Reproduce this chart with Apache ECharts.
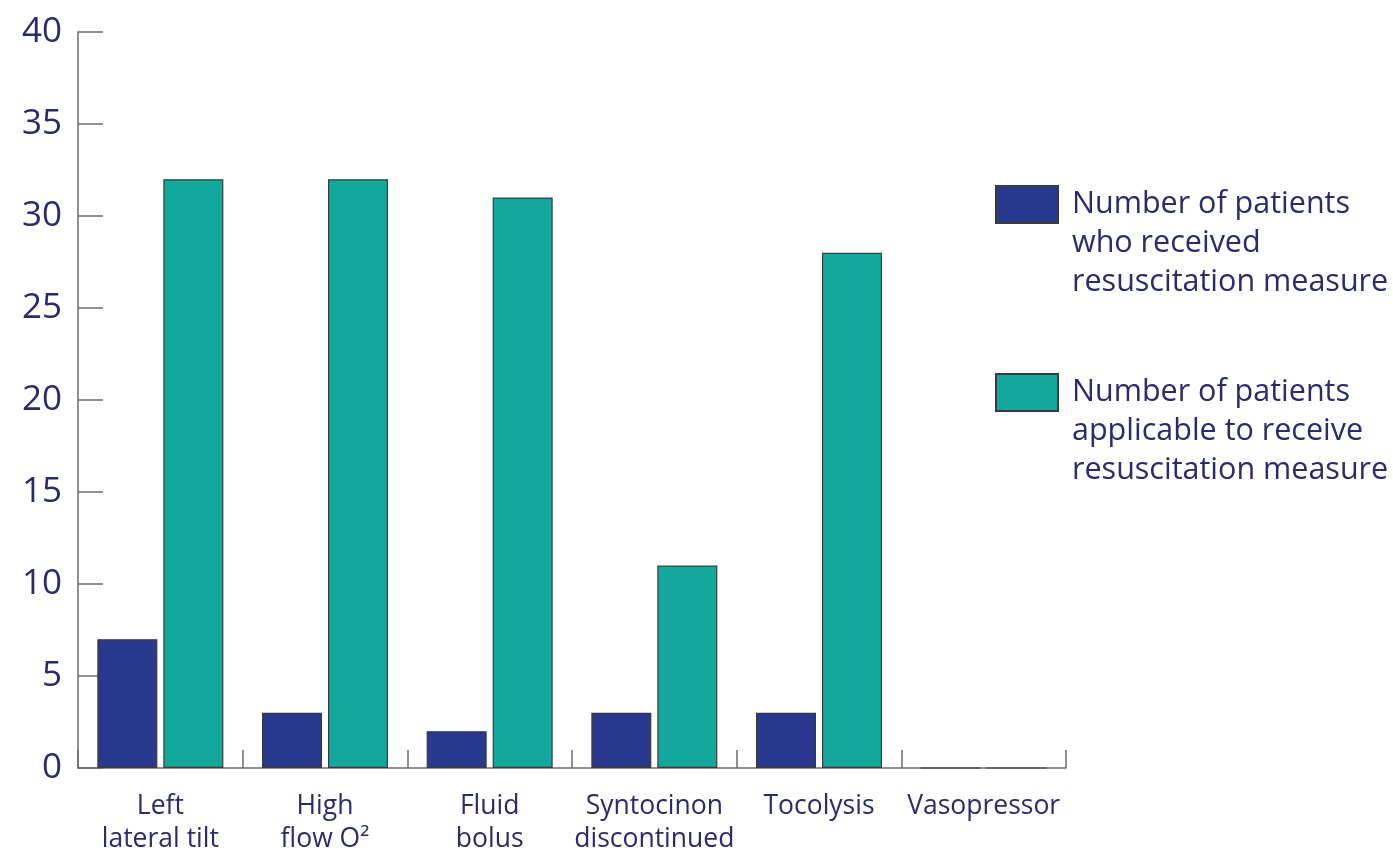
<!DOCTYPE html>
<html>
<head>
<meta charset="utf-8">
<title>Resuscitation measures</title>
<script src="https://cdn.jsdelivr.net/npm/echarts@6/dist/echarts.min.js"></script>
<style>
  html, body { margin: 0; padding: 0; background: #ffffff; }
  #chart { width: 1393px; height: 850px; }
</style>
</head>
<body>
<div id="chart"></div>
<script>
// Resuscitation measures: patients who received each measure vs. patients eligible for it
const categories = [
  'Left\nlateral tilt',
  'High\nflow O²',
  'Fluid\nbolus',
  'Syntocinon\ndiscontinued',
  'Tocolysis',
  'Vasopressor'
];
const received = [7, 3, 2, 3, 3, 0];
const applicable = [32, 32, 31, 11, 28, 0];
const yTicks = { min: 0, max: 40, interval: 5 };

const seriesNames = [
  'Number of patients\nwho received\nresuscitation measure',
  'Number of patients\napplicable to receive\nresuscitation measure'
];

const TEXT = '#2b2a6c';
const AXIS = '#6b6b6b';
const FONT = '"Open Sans", "Noto Sans", sans-serif';

const chart = echarts.init(document.getElementById('chart'), null, { renderer: 'canvas' });

// Each legend holds one series; two leading blank lines push the label down so
// its first line sits level with the colour swatch.
function legendFor(name, top) {
  return {
    data: [name],
    left: 995,
    top: top,
    orient: 'vertical',
    itemWidth: 62,
    itemHeight: 37,
    padding: 0,
    selectedMode: false,
    icon: 'rect',
    formatter: (n) => '\n\n' + n,
    textStyle: {
      color: TEXT,
      fontFamily: FONT,
      fontSize: 30.5,
      lineHeight: 39,
      padding: [6, 0, 0, 9]
    }
  };
}

chart.setOption({
  animation: false,
  backgroundColor: '#ffffff',
  grid: {
    left: 78, right: 327, top: 32, bottom: 82,
    containLabel: false,
    outerBoundsMode: 'none'
  },
  legend: [legendFor(seriesNames[0], 104), legendFor(seriesNames[1], 292)],
  xAxis: {
    type: 'category',
    data: categories,
    boundaryGap: true,
    axisLine: { show: true, lineStyle: { color: AXIS, width: 1.5 } },
    axisTick: { show: true, inside: true, length: 18, lineStyle: { color: AXIS, width: 1.5 } },
    axisLabel: {
      color: TEXT,
      fontFamily: FONT,
      fontSize: 26.5,
      lineHeight: 33,
      margin: 22,
      interval: 0
    },
    splitLine: { show: false }
  },
  yAxis: {
    type: 'value',
    min: yTicks.min,
    max: yTicks.max,
    interval: yTicks.interval,
    axisLine: { show: true, lineStyle: { color: AXIS, width: 1.5 } },
    axisTick: { show: true, inside: true, length: 25, lineStyle: { color: AXIS, width: 1.5 } },
    axisLabel: { color: TEXT, fontFamily: FONT, fontSize: 35, margin: 16 },
    splitLine: { show: false }
  },
  series: [
    {
      name: seriesNames[0],
      type: 'bar',
      data: received,
      barWidth: 60,
      barGap: '10%',
      itemStyle: { color: '#2a3990', borderColor: '#3a3a3a', borderWidth: 1.2 }
    },
    {
      name: seriesNames[1],
      type: 'bar',
      data: applicable,
      barWidth: 60,
      barGap: '10%',
      itemStyle: { color: '#12a89c', borderColor: '#3a3a3a', borderWidth: 1.2 }
    }
  ]
});
</script>
</body>
</html>
